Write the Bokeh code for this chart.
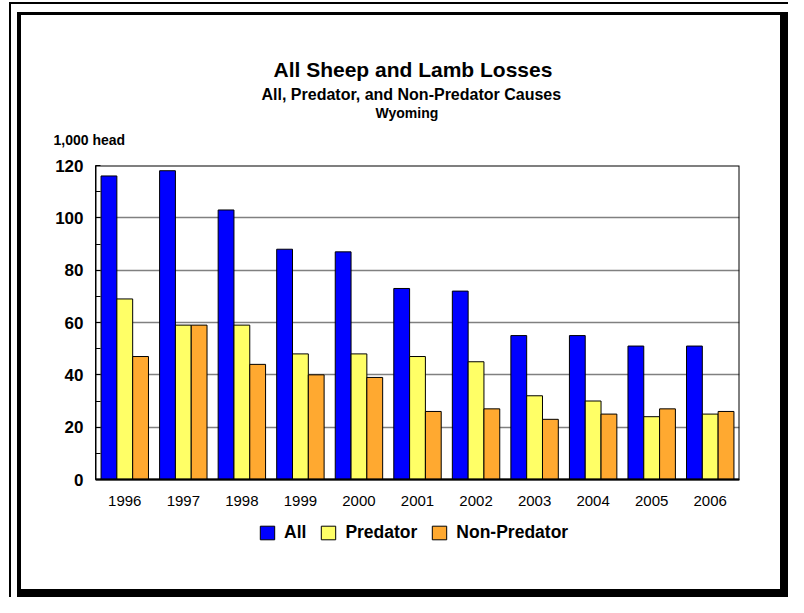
from bokeh.plotting import figure
from bokeh.models import (ColumnDataSource, FactorRange, Range1d, Legend, LegendItem,
                          Title, FixedTicker, BoxAnnotation)
from bokeh.transform import dodge
from bokeh.embed import file_html
from bokeh.resources import INLINE

years = ["1996", "1997", "1998", "1999", "2000", "2001", "2002", "2003", "2004", "2005", "2006"]
all_losses = [116, 118, 103, 88, 87, 73, 72, 55, 55, 51, 51]
predator = [69, 59, 59, 48, 48, 47, 45, 32, 30, 24, 25]
non_predator = [47, 59, 44, 40, 39, 26, 27, 23, 25, 27, 26]
series_names = ["All", "Predator", "Non-Predator"]
colors = ["#0000FF", "#FFFF66", "#FFA930"]
y_ticks = [0, 20, 40, 60, 80, 100, 120]

title_text = "All Sheep and Lamb Losses"
subtitle_text = "All, Predator, and Non-Predator Causes"
state_text = "Wyoming"
unit_text = "1,000 head"

FONT = "Liberation Sans"

# layout (pixels)
W, H = 788, 597
LEFT, RIGHT, TOP, BOTTOM = 95, 49, 165, 40
AXIS_Y_PX = 479                      # where value 0 sits on the canvas
frame_h = H - TOP - BOTTOM
plot_h = AXIS_Y_PX - TOP
y_max = y_ticks[-1]
y_min = -y_max * (frame_h - plot_h) / plot_h

src = ColumnDataSource(dict(year=years, all=all_losses, pred=predator, nonpred=non_predator))

p = figure(width=W, height=H, title=None,
           x_range=FactorRange(factors=years, range_padding=0),
           y_range=Range1d(y_min, y_max),
           output_backend="svg", toolbar_location=None,
           min_border_left=LEFT, min_border_right=RIGHT,
           min_border_top=TOP, min_border_bottom=BOTTOM)
p.background_fill_color = "white"
p.border_fill_color = None
p.outline_line_color = None

# page frame drawn with CSS behind the transparent canvas border area
p.styles = {
    "background-color": "white",
    "box-shadow": ("inset 0 2px 0 0 white, inset 9px 0 0 0 white, "
                   "inset 11px 0 0 0 black, inset 0 4px 0 0 black, "
                   "inset 17px 0 0 0 white, inset 0 12px 0 0 white, "
                   "inset 21px 0 0 0 black, inset 0 15px 0 0 black, "
                   "inset -8px 0 0 0 black, inset 0 -8px 0 0 black"),
}

bw = 0.27
r_all = p.vbar(x=dodge("year", -bw, range=p.x_range), top="all", width=bw, source=src,
               fill_color=colors[0], line_color="black", line_width=1)
r_pred = p.vbar(x=dodge("year", 0, range=p.x_range), top="pred", width=bw, source=src,
                fill_color=colors[1], line_color="black", line_width=1)
r_non = p.vbar(x=dodge("year", bw, range=p.x_range), top="nonpred", width=bw, source=src,
               fill_color=colors[2], line_color="black", line_width=1)

# plot box around the value area
p.add_layout(BoxAnnotation(bottom=y_ticks[0], top=y_max, fill_alpha=0,
                           line_color="black", line_alpha=1, line_width=2))

minor = [(a + b) / 2 for a, b in zip(y_ticks, y_ticks[1:])]
ticker = FixedTicker(ticks=y_ticks, minor_ticks=minor)

# grid
p.xgrid.visible = False
p.ygrid.ticker = ticker
p.ygrid.grid_line_color = "#808080"
p.ygrid.grid_line_width = 1.5
p.ygrid.level = "underlay"

# y axis
p.yaxis.ticker = ticker
p.yaxis.bounds = (y_ticks[0], y_max)
p.yaxis.axis_line_color = "black"
p.yaxis.major_tick_in = 5
p.yaxis.major_tick_out = 0
p.yaxis.minor_tick_in = 5
p.yaxis.minor_tick_out = 0
p.yaxis.major_tick_line_color = "black"
p.yaxis.minor_tick_line_color = "black"
p.yaxis.major_label_standoff = 12
p.yaxis.major_label_text_font = FONT
p.yaxis.major_label_text_font_style = "bold"
p.yaxis.major_label_text_font_size = "17px"
p.yaxis.major_label_text_color = "black"

# x axis, sitting at value 0
p.xaxis.fixed_location = y_ticks[0]
p.xaxis.axis_line_color = "black"
p.xaxis.axis_line_width = 1.5
p.xaxis.major_tick_in = 0
p.xaxis.major_tick_out = 0
p.xaxis.minor_tick_line_color = None
p.xaxis.major_label_standoff = 16
p.xaxis.major_label_text_font = FONT
p.xaxis.major_label_text_font_size = "15px"
p.xaxis.major_label_text_color = "black"

# legend (inside the frame, below the axis labels)
legend = Legend(items=[LegendItem(label=series_names[0], renderers=[r_all]),
                       LegendItem(label=series_names[1], renderers=[r_pred]),
                       LegendItem(label=series_names[2], renderers=[r_non])],
                orientation="horizontal", location=(163, H - BOTTOM - 543),
                glyph_width=18, glyph_height=17, label_height=17,
                label_standoff=8, spacing=13, padding=0, margin=0,
                border_line_alpha=0, background_fill_alpha=0,
                label_text_font=FONT, label_text_font_style="bold",
                label_text_font_size="17.5px", label_text_color="black")
p.add_layout(legend)

# title stack (first added sits closest to the plot frame)
def spacer(h):
    p.add_layout(Title(text=" ", text_font_size="1px", standoff=h), "above")

def add_title(text, size, offset, align="left"):
    p.add_layout(Title(text=text, align=align, offset=offset, standoff=0,
                       text_font=FONT, text_font_style="bold",
                       text_font_size=size, text_color="black"), "above")

spacer(15)
add_title(unit_text, "14px", -42)
spacer(5.5)
add_title(state_text, "14px", 280)
add_title(subtitle_text, "16px", 166)
spacer(0)
add_title(title_text, "21px", 178)

open("out.html", "w").write(file_html(p, INLINE))
